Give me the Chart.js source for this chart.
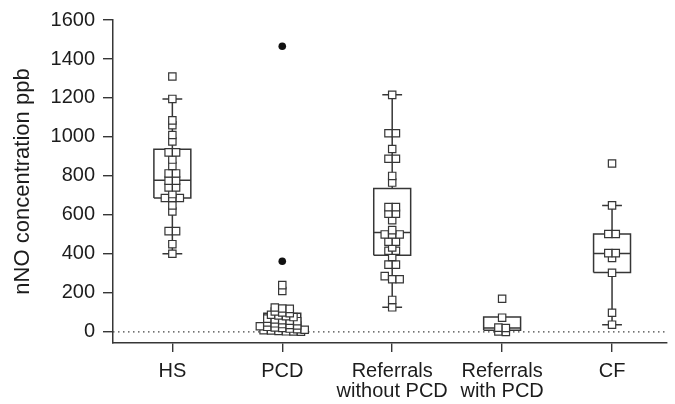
<!DOCTYPE html>
<html>
<head>
<meta charset="utf-8">
<script src="https://cdn.jsdelivr.net/npm/chart.js@4.4.1/dist/chart.umd.min.js"></script>
<style>
  html, body { margin: 0; padding: 0; background: #fff; }
  #wrap { width: 675px; height: 404px; }
</style>
</head>
<body>
<div id="wrap"><canvas id="nno"></canvas></div>
<script>
const groups = [['HS'], ['PCD'], ['Referrals', 'without PCD'], ['Referrals', 'with PCD'], ['CF']];
const yTicks = [0, 200, 400, 600, 800, 1000, 1200, 1400, 1600];

const hsValues = [1310, 1195, 1085, 1060, 1010, 977, 921, 921, 884, 851, 813, 813, 776, 776,
    741, 741, 707, 687, 687, 687, 649, 618, 517, 517, 450, 401];
const pcdValues = [240, 210, 125, 120, 118, 105, 100, 96, 88, 84, 80, 76, 68, 64, 60, 57, 55,
    48, 44, 40, 36, 33, 29, 26, 23, 20, 17, 14, 11, 9, 7, 5, 3, 2, 1];
const refNoPcdValues = [1216, 1019, 1019, 938, 888, 888, 800, 766, 640, 640, 606, 606, 573, 522,
    500, 500, 500, 463, 463, 433, 416, 416, 384, 345, 345, 286, 270, 270, 164, 126];
const refPcdValues = [170, 73, 22, 20, 2, 0];
const cfValues = [864, 649, 502, 502, 404, 404, 379, 303, 98, 37];
const pcdOutliers = [1465, 362];

// box plot stats per group
const boxLow = [401, 0, 126, 8, 37];
const boxQ1 = [687, 10, 393, 8, 305];
const boxMedian = [778, 40, 510, 20, 402];
const boxQ3 = [937, 95, 736, 76, 502];
const boxHigh = [1195, 128, 1216, 76, 649];

const lineColor = '#363636';
const textColor = '#1c1c1c';
const xMin = 0.46, xMax = 5.5;
const boxHalf = 0.168;
const capHalf = 0.09;
const binSize = 20;
const dodgeStep = 0.068;

// simple dot plot layout: values in the same bin sit side by side
function swarm(values, center) {
    let bins = {};
    values.forEach(v => {
        let k = Math.round(v / binSize);
        if (!bins[k]) bins[k] = [];
        bins[k].push(v);
    });
    let pts = [];
    Object.values(bins).forEach(list => {
        list.forEach((v, i) => {
            pts.push({ x: center + (i - (list.length - 1) / 2) * dodgeStep, y: v });
        });
    });
    return pts;
}

const allValues = [hsValues, pcdValues, refNoPcdValues, refPcdValues, cfValues];
let squares = [];
allValues.forEach((vals, i) => { squares = squares.concat(swarm(vals, i + 1)); });

let boxLines = [];
let whiskerLines = [];
for (let i = 0; i < groups.length; i++) {
    let c = i + 1;
    boxLines.push(
        { x: c - boxHalf, y: boxQ1[i] }, { x: c + boxHalf, y: boxQ1[i] },
        { x: c + boxHalf, y: boxQ3[i] }, { x: c - boxHalf, y: boxQ3[i] },
        { x: c - boxHalf, y: boxQ1[i] }, { x: c, y: null },
        { x: c - boxHalf, y: boxMedian[i] }, { x: c + boxHalf, y: boxMedian[i] }, { x: c, y: null }
    );
    if (boxLow[i] < boxQ1[i]) {
        whiskerLines.push(
            { x: c, y: boxLow[i] }, { x: c, y: boxQ1[i] }, { x: c, y: null },
            { x: c - capHalf, y: boxLow[i] }, { x: c + capHalf, y: boxLow[i] }, { x: c, y: null }
        );
    }
    if (boxHigh[i] > boxQ3[i]) {
        whiskerLines.push(
            { x: c, y: boxQ3[i] }, { x: c, y: boxHigh[i] }, { x: c, y: null },
            { x: c - capHalf, y: boxHigh[i] }, { x: c + capHalf, y: boxHigh[i] }, { x: c, y: null }
        );
    }
}

const ctx = document.getElementById('nno');
new Chart(ctx, {
    type: 'scatter',
    data: {
        datasets: [
            {
                label: 'points',
                data: squares,
                pointStyle: 'rect',
                pointRadius: 5.2,
                backgroundColor: '#fff',
                borderColor: lineColor,
                borderWidth: 1.2,
                order: 0
            },
            {
                label: 'outliers',
                data: pcdOutliers.map(v => ({ x: 2, y: v })),
                pointStyle: 'circle',
                pointRadius: 3.8,
                backgroundColor: '#111',
                borderColor: '#111',
                borderWidth: 0,
                order: 1
            },
            {
                label: 'boxes',
                type: 'line',
                data: boxLines,
                borderColor: lineColor,
                borderWidth: 1.5,
                pointRadius: 0,
                spanGaps: false,
                order: 2
            },
            {
                label: 'whiskers',
                type: 'line',
                data: whiskerLines,
                borderColor: lineColor,
                borderWidth: 1.5,
                pointRadius: 0,
                spanGaps: false,
                order: 3
            },
            {
                label: 'zero',
                type: 'line',
                data: [{ x: xMin, y: 0 }, { x: xMax, y: 0 }],
                borderColor: '#444',
                borderWidth: 1.2,
                borderDash: [1.5, 3.5],
                pointRadius: 0,
                order: 4
            }
        ]
    },
    options: {
        responsive: true,
        maintainAspectRatio: false,
        animation: false,
        layout: { padding: { left: 0, right: 8, top: 15, bottom: 0 } },
        plugins: {
            legend: { display: false },
            tooltip: { enabled: false }
        },
        scales: {
            x: {
                type: 'linear',
                min: xMin,
                max: xMax,
                afterBuildTicks: s => { s.ticks = groups.map((g, i) => ({ value: i + 1 })) },
                afterFit: s => { s.height = 61 },
                ticks: {
                    callback: v => groups[Math.round(v) - 1],
                    color: textColor,
                    font: { family: 'Liberation Sans, Arial, sans-serif', size: 20, lineHeight: 1.0 },
                    padding: 9,
                    maxRotation: 0,
                    autoSkip: false
                },
                grid: { drawOnChartArea: false, drawTicks: true, tickLength: 9, color: lineColor, lineWidth: 1.4 },
                border: { color: lineColor, width: 1.5 }
            },
            y: {
                min: -57,
                max: 1600,
                afterBuildTicks: s => { s.ticks = yTicks.map(v => ({ value: v })) },
                afterFit: s => { s.width = 113 },
                ticks: {
                    callback: v => String(v),
                    color: textColor,
                    font: { family: 'Liberation Sans, Arial, sans-serif', size: 20 },
                    padding: 8
                },
                grid: { drawOnChartArea: false, drawTicks: true, tickLength: 10, color: lineColor, lineWidth: 1.4 },
                border: { color: lineColor, width: 1.5 },
                title: {
                    display: true,
                    text: 'nNO concentration ppb',
                    color: textColor,
                    font: { family: 'Liberation Sans, Arial, sans-serif', size: 22, lineHeight: 1.2 },
                    padding: { top: 10, bottom: 0 }
                }
            }
        }
    }
});
</script>
</body>
</html>
